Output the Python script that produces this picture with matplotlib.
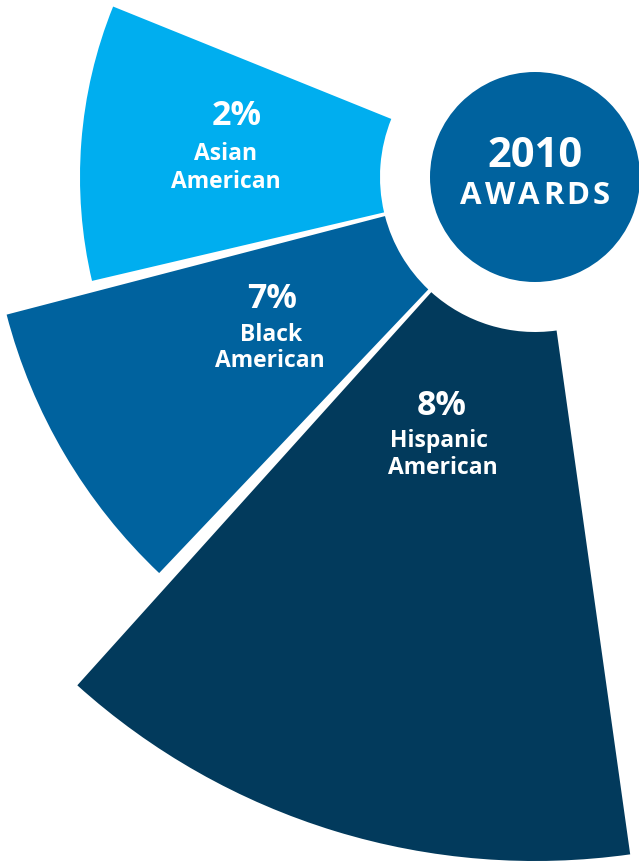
import numpy as np
import matplotlib.pyplot as plt

# Share of 2010 awards by group
groups = ['Asian American', 'Black American', 'Hispanic American']
shares = [2, 7, 8]
# Angular span of each wedge (degrees, counter-clockwise from east)
start_deg = [158.0, 194.6, 228.0]
end_deg = [193.2, 226.5, 278.0]
# Outer reach of each wedge (px)
outer_r = [455, 546, 684]
inner_r = 155
hub_r = 105
colors = ['#00aeef', '#00629e', '#023a5c']
hub_color = '#00629e'

# Label anchors, pixel coords: (x, baseline) for the pct and both name lines
pct_pos = [(237, 125), (272, 308), (442, 415)]
line1_pos = [(226, 160), (271, 341), (439, 447)]
line2_pos = [(226, 188), (270, 367), (443, 474)]

W, H = 639, 861
cx, cy = 535, 177   # centre of the fan, pixel coords from top-left
R = 700

plt.rcParams['font.family'] = ['Open Sans', 'DejaVu Sans']

fig = plt.figure(figsize=(W / 100, H / 100), dpi=100)
ax = fig.add_axes([(cx - R) / W, (H - cy - R) / H, 2 * R / W, 2 * R / H],
                  projection='polar')
ax.set_ylim(0, R)
ax.set_axis_off()

t0 = np.radians(start_deg)
t1 = np.radians(end_deg)
ax.bar((t0 + t1) / 2, np.array(outer_r) - inner_r, width=t1 - t0,
       bottom=inner_r, color=colors, linewidth=0, align='center')

# centre disc
ax.bar(0, hub_r, width=2 * np.pi, bottom=0, color=hub_color, linewidth=0)


def px(x, y):
    return x / W, 1 - y / H


for name, share, p0, p1, p2 in zip(groups, shares, pct_pos, line1_pos, line2_pos):
    first, second = name.split(' ')
    fig.text(*px(*p0), f'{share}%', color='white', fontsize=24.5,
             fontweight='bold', ha='center', va='baseline')
    fig.text(*px(*p1), first, color='white', fontsize=16.5,
             fontweight='bold', ha='center', va='baseline')
    fig.text(*px(*p2), second, color='white', fontsize=16.5,
             fontweight='bold', ha='center', va='baseline')

fig.text(*px(cx, 167), '2010', color='white', fontsize=30,
         fontweight='bold', ha='center', va='baseline')

# "AWARDS" is set with wide tracking, so place it letter by letter
word = 'AWARDS'
track = 3.0
renderer = fig.canvas.get_renderer()
letters = [fig.text(0, 0, ch, color='white', fontsize=22.5,
                    fontweight='bold', ha='left', va='baseline')
           for ch in word]
widths = [t.get_window_extent(renderer).width for t in letters]
total = sum(widths) + track * (len(word) - 1)
x = cx - total / 2
for t, w in zip(letters, widths):
    t.set_position(px(x, 204))
    x += w + track

fig.savefig('out.png', dpi=100, facecolor='white')
